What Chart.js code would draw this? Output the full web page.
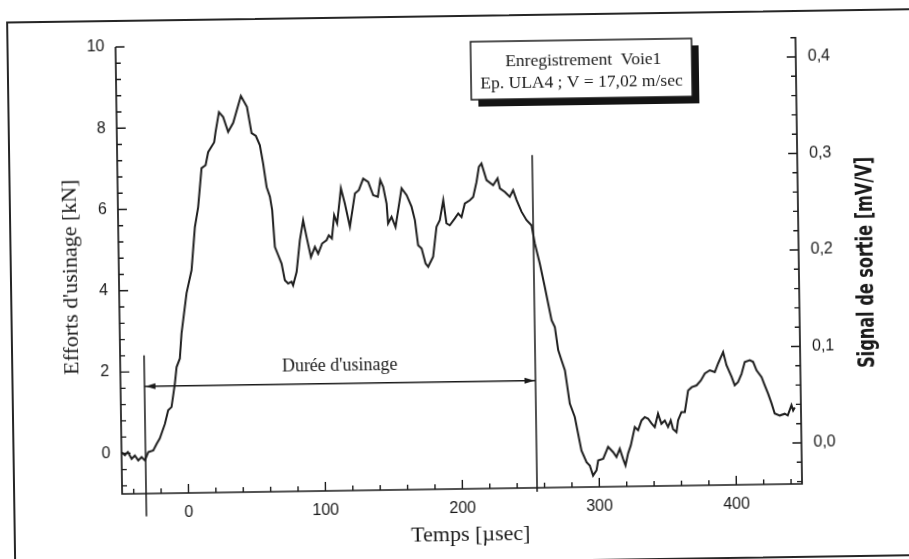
<!DOCTYPE html>
<html>
<head>
<meta charset="utf-8">
<script src="https://cdn.jsdelivr.net/npm/chart.js@4.4.0/dist/chart.umd.min.js"></script>
<style>
    html, body { margin: 0; padding: 0; background: #fff; overflow: hidden; }
    /* the whole sheet sits a little askew, like the printed page */
    #sheet { position: relative; width: 909px; height: 559px; transform: rotate(-0.85deg); transform-origin: 454.5px 279.5px; }
    #frame { position: absolute; left: 10px; top: 15px; width: 930px; height: 548px; border: 2px solid #262626; box-sizing: border-box; }
    #myChart { position: absolute; left: 0; top: 0; }
</style>
</head>
<body>
<div id="sheet">
    <div id="frame"></div>
    <canvas id="myChart" width="909" height="559"></canvas>
</div>
<script>
// time axis [µs] and cutting force [kN], channel 1
const timeUs = [-48.5, -46.1, -43.9, -41.2, -38.8, -36.4, -33.9, -31.5, -29.0, -25.3, -22.8, -20.4, -16.5, -14.0, -11.5, -8.8, -7.4, -4.9, -3.4, 0.7,
    4.6, 7.5, 10.1, 13.0, 16.0, 18.0, 22.5, 23.6, 26.3, 29.3, 32.8, 36.6, 42.5, 46.8, 49.9, 53.0, 55.8, 58.0, 60.3, 62.6,
    64.1, 65.7, 68.0, 70.4, 72.6, 75.0, 77.5, 78.6, 81.3, 84.0, 86.6, 88.9, 91.9, 94.9, 97.2, 100.2, 103.5, 105.2, 107.4, 109.3,
    111.4, 114.5, 117.2, 120.7, 124.7, 127.6, 130.9, 134.5, 138.0, 141.4, 143.3, 145.4, 147.7, 148.6, 151.2, 154.0, 158.8, 162.4, 165.9, 168.2,
    170.3, 172.8, 175.5, 177.4, 181.1, 183.9, 186.4, 189.1, 191.2, 193.6, 197.4, 199.9, 202.3, 204.8, 208.5, 211.0, 213.6, 215.5, 217.4, 220.9,
    225.7, 229.0, 230.6, 234.2, 237.7, 240.2, 242.6, 246.1, 249.7, 253.3, 255.5, 258.9, 262.3, 266.9, 269.2, 271.4, 273.7, 276.1, 279.3, 282.8,
    287.3, 290.9, 293.2, 295.5, 298.1, 299.4, 303.1, 306.8, 310.4, 312.8, 315.3, 317.6, 319.3, 321.3, 323.4, 326.5, 328.9, 331.5, 333.9, 336.3,
    338.8, 341.1, 343.6, 346.0, 348.5, 350.8, 352.8, 354.4, 356.9, 358.2, 360.7, 363.2, 365.8, 368.5, 372.0, 375.2, 378.2, 381.9, 385.5, 388.0,
    391.8, 394.1, 397.7, 399.9, 402.4, 405.0, 407.5, 411.2, 413.6, 416.0, 419.6, 421.8, 424.2, 426.6, 428.8, 432.5, 436.1, 438.3, 441.1, 442.3,
    443.5];
const forceKN = [0.03, -0.05, 0.03, -0.14, -0.06, -0.18, -0.10, -0.18, 0.02, 0.06, 0.22, 0.35, 0.71, 1.04, 1.12, 1.70, 2.10, 2.31, 2.93, 3.92,
    4.48, 5.54, 6.03, 6.99, 7.06, 7.38, 7.62, 7.87, 8.36, 8.24, 7.87, 8.09, 8.75, 8.48, 7.83, 7.76, 7.53, 7.08, 6.50, 6.26,
    5.93, 5.02, 4.82, 4.61, 4.20, 4.12, 4.16, 4.07, 4.40, 5.18, 5.67, 5.26, 4.76, 5.01, 4.84, 5.09, 5.17, 5.29, 5.21, 5.78,
    5.58, 6.44, 6.07, 5.49, 6.31, 6.39, 6.67, 6.59, 6.26, 6.22, 6.63, 6.46, 6.05, 5.56, 5.72, 5.47, 6.42, 6.25, 5.96, 5.63,
    5.01, 4.93, 4.56, 4.48, 4.72, 5.46, 5.62, 6.11, 5.54, 5.49, 5.66, 5.78, 5.69, 6.02, 6.10, 6.18, 6.55, 6.92, 7.00, 6.59,
    6.46, 6.63, 6.38, 6.29, 6.17, 6.33, 6.09, 5.80, 5.59, 5.46, 5.01, 4.52, 3.94, 3.12, 2.95, 2.38, 2.13, 1.88, 1.06, 0.73,
    -0.10, -0.39, -0.47, -0.72, -0.59, -0.35, -0.31, -0.02, -0.15, -0.27, -0.07, -0.32, -0.48, -0.19, 0.01, 0.46, 0.38, 0.62, 0.70, 0.66,
    0.54, 0.45, 0.78, 0.53, 0.61, 0.45, 0.61, 0.40, 0.32, 0.61, 0.81, 0.81, 1.34, 1.42, 1.46, 1.58, 1.75, 1.83, 1.78, 1.99,
    2.27, 1.95, 1.66, 1.45, 1.53, 1.73, 2.02, 2.06, 2.02, 1.81, 1.64, 1.44, 1.23, 0.99, 0.74, 0.69, 0.73, 0.69, 0.94, 0.81,
    0.88];

const timeTicks = [0, 100, 200, 300, 400];
const forceTicks = [0, 2, 4, 6, 8, 10];
const signalTicks = [0.0, 0.1, 0.2, 0.3, 0.4];

// machining duration markers
const cutStart = -31;
const cutEnd = 254.5;
const cutArrowKN = 1.64;
const cutStartSpan = [-1.56, 2.4];
const cutEndSpan = [-1.1, 7.19];

const infoLines = ['Enregistrement  Voie1', 'Ep. ULA4 ; V = 17,02 m/sec'];

const ink = '#1a1a1a';
const serif = '"Liberation Serif", "Times New Roman", serif';
const sans = '"Liberation Sans", Arial, sans-serif';

function arrowHead(ctx, x, y, dir) {
    ctx.beginPath();
    ctx.moveTo(x, y);
    ctx.lineTo(x - dir * 10, y - 3);
    ctx.lineTo(x - dir * 10, y + 3);
    ctx.closePath();
    ctx.fill();
}

// axes lines, inward ticks, annotation and the info box
const decor = {
    id: 'decor',
    afterDatasetsDraw(chart) {
        const {ctx, chartArea: a, scales: {x, y, y2}} = chart;
        ctx.save();
        ctx.strokeStyle = ink;
        ctx.fillStyle = ink;
        ctx.lineWidth = 1.7;
        ctx.beginPath();
        ctx.moveTo(a.left, a.top);
        ctx.lineTo(a.left, a.bottom);
        ctx.lineTo(a.right, a.bottom);
        ctx.lineTo(a.right, a.top);
        ctx.stroke();

        ctx.lineWidth = 1.4;
        ctx.beginPath();
        for (let i = Math.ceil(x.min / 20); i * 20 <= x.max; i++) {
            const px = x.getPixelForValue(i * 20);
            ctx.moveTo(px, a.bottom);
            ctx.lineTo(px, a.bottom - (i % 5 === 0 ? 9 : 5));
        }
        for (let i = Math.ceil(y.min / 0.4); i * 0.4 <= y.max + 1e-9; i++) {
            const py = y.getPixelForValue(i * 0.4);
            ctx.moveTo(a.left, py);
            ctx.lineTo(a.left + (i % 5 === 0 ? 9 : 5), py);
        }
        for (let i = Math.ceil(y2.min / 0.02); i * 0.02 <= y2.max + 1e-9; i++) {
            const py = y2.getPixelForValue(i * 0.02);
            ctx.moveTo(a.right, py);
            ctx.lineTo(a.right - (i % 5 === 0 ? 9 : 5), py);
        }
        ctx.stroke();

        // Durée d'usinage
        const sx = x.getPixelForValue(cutStart);
        const ex = x.getPixelForValue(cutEnd);
        const ay = y.getPixelForValue(cutArrowKN);
        ctx.lineWidth = 1.5;
        ctx.beginPath();
        ctx.moveTo(sx, y.getPixelForValue(cutStartSpan[0]));
        ctx.lineTo(sx, y.getPixelForValue(cutStartSpan[1]));
        ctx.moveTo(ex, y.getPixelForValue(cutEndSpan[0]));
        ctx.lineTo(ex, y.getPixelForValue(cutEndSpan[1]));
        ctx.moveTo(sx, ay);
        ctx.lineTo(ex, ay);
        ctx.stroke();
        arrowHead(ctx, sx + 1, ay, -1);
        arrowHead(ctx, ex - 1, ay, 1);
        ctx.font = '18px ' + serif;
        ctx.textAlign = 'center';
        ctx.textBaseline = 'middle';
        ctx.fillText("Durée d'usinage", (sx + ex) / 2, ay - 17);

        // info box with drop shadow
        const bx = 474, by = 42, bw = 221, bh = 58;
        ctx.fillStyle = '#141414';
        ctx.fillRect(bx + 7, by + 7, bw, bh);
        ctx.fillStyle = '#fff';
        ctx.fillRect(bx, by, bw, bh);
        ctx.lineWidth = 1.5;
        ctx.strokeRect(bx, by, bw, bh);
        ctx.fillStyle = ink;
        ctx.font = '17.5px ' + serif;
        ctx.fillText(infoLines[0], bx + bw / 2 + 2, by + 20);
        ctx.fillText(infoLines[1], bx + bw / 2, by + 42);

        // axis titles
        const midY = (a.top + a.bottom) / 2;
        ctx.font = '22px ' + serif;
        ctx.fillText('Temps [µsec]', a.left + 348, a.bottom + 46);

        ctx.save();
        ctx.translate(a.left - 42, midY + 6);
        ctx.rotate(-Math.PI / 2);
        ctx.textBaseline = 'alphabetic';
        ctx.fillText("Efforts d'usinage [kN]", 0, 0);
        ctx.restore();

        ctx.save();
        ctx.translate(a.right + 74, midY + 3);
        ctx.rotate(-Math.PI / 2);
        ctx.textBaseline = 'alphabetic';
        ctx.font = 'bold 23px "Liberation Sans Narrow", "DejaVu Sans Condensed", ' + sans;
        ctx.fillText('Signal de sortie [mV/V]', 0, 0, 211);
        ctx.restore();

        ctx.restore();
    }
};

const tickFont = {family: sans, size: 16};

const config = {
    type: 'line',
    data: {
        datasets: [{
            data: timeUs.map((t, i) => ({x: t, y: forceKN[i]})),
            borderColor: '#1f1f1f',
            borderWidth: 2,
            pointRadius: 0,
            tension: 0,
            fill: false
        }]
    },
    options: {
        responsive: false,
        animation: false,
        devicePixelRatio: 1,
        layout: {padding: {top: 42, left: 0, right: 0, bottom: 0}},
        plugins: {legend: {display: false}, tooltip: {enabled: false}},
        scales: {
            x: {
                type: 'linear', position: 'bottom', min: -48.5, max: 448,
                grid: {display: false, drawTicks: false},
                border: {display: false},
                afterBuildTicks: s => { s.ticks = timeTicks.map(v => ({value: v})); },
                afterFit: s => { s.height = 70; },
                ticks: {font: tickFont, color: ink, padding: 10, callback: v => String(v)}
            },
            y: {
                type: 'linear', position: 'left', min: -1, max: 10,
                grid: {display: false, drawTicks: false},
                border: {display: false},
                afterBuildTicks: s => { s.ticks = forceTicks.map(v => ({value: v})); },
                afterFit: s => { s.width = 119; },
                ticks: {font: tickFont, color: ink, padding: 11, callback: v => String(v)}
            },
            y2: {
                type: 'linear', position: 'right', min: -0.0425, max: 0.4207,
                grid: {display: false, drawTicks: false},
                border: {display: false},
                afterBuildTicks: s => { s.ticks = signalTicks.map(v => ({value: v})); },
                afterFit: s => { s.width = 110; },
                ticks: {font: tickFont, color: ink, padding: 12, callback: v => v.toFixed(1).replace('.', ',')}
            }
        }
    },
    plugins: [decor]
};

const chart1 = new Chart(document.getElementById('myChart'), config);
</script>
</body>
</html>
